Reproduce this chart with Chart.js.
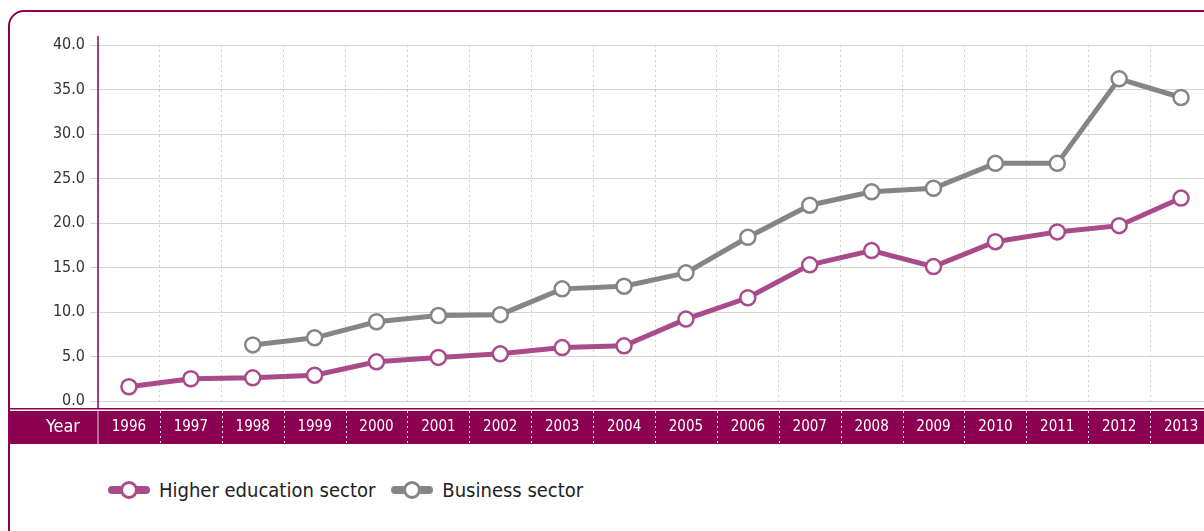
<!DOCTYPE html>
<html>
<head>
<meta charset="utf-8">
<script src="https://cdn.jsdelivr.net/npm/chart.js@4/dist/chart.umd.min.js"></script>
<style>
  html, body { margin: 0; padding: 0; background: #fff; overflow: hidden; width: 1204px; height: 531px; }
  #frame { position: absolute; left: 8px; top: 10px; width: 1300px; height: 600px;
           border: 2.5px solid #8b0051; border-top-left-radius: 16px; box-sizing: border-box; }
  #chart { position: absolute; left: 0; top: 0; }
  #legend { position: absolute; left: 108px; top: 478px; display: flex; align-items: center;
            font-family: 'Liberation Sans Narrow', 'DejaVu Sans Condensed', sans-serif; font-size: 20px; color: #222; }
  .item { display: flex; align-items: center; margin-right: 16px; }
  .sym { position: relative; width: 42px; height: 18px; margin-right: 9px; }
  .sym .bar { position: absolute; left: 0; top: 5px; width: 42px; height: 8px; border-radius: 4px; }
  .sym .dot { position: absolute; left: 12px; top: 0px; width: 12px; height: 12px; border-radius: 50%;
              background: #fff; border: 3px solid; }
</style>
</head>
<body>
<div id="frame"></div>
<canvas id="chart" width="1222" height="446"></canvas>
<div id="legend">
  <div class="item"><div class="sym"><div class="bar" style="background:#a94a8b"></div><div class="dot" style="border-color:#a94a8b"></div></div>Higher education sector</div>
  <div class="item"><div class="sym"><div class="bar" style="background:#858585"></div><div class="dot" style="border-color:#858585"></div></div>Business sector</div>
</div>
<script>
const years = ['1996', '1997', '1998', '1999', '2000', '2001', '2002', '2003', '2004', '2005',
               '2006', '2007', '2008', '2009', '2010', '2011', '2012', '2013'];
const higherEducation = [1.6, 2.5, 2.6, 2.9, 4.4, 4.9, 5.3, 6.0, 6.2, 9.2,
                         11.6, 15.3, 16.9, 15.1, 17.9, 19.0, 19.7, 22.8];
const business = [null, null, 6.3, 7.1, 8.9, 9.6, 9.7, 12.6, 12.9, 14.4,
                  18.4, 22.0, 23.5, 23.9, 26.7, 26.7, 36.2, 34.1];

const FONT = "'Liberation Sans Narrow', 'DejaVu Sans Condensed', sans-serif";
const BAND = '#8b0051';

// band under the plot with the year labels
const bandPlugin = {
  id: 'band',
  beforeDraw(chart) {
    const c = chart.ctx, area = chart.chartArea;
    c.save();
    c.fillStyle = BAND;
    c.fillRect(9, area.bottom + 7, chart.width, 1.5);
    c.fillRect(9, area.bottom + 10, chart.width, 33);
    c.restore();
  },
  afterDraw(chart) {
    const c = chart.ctx, area = chart.chartArea;
    const top = area.bottom + 10, bottom = area.bottom + 43;
    c.save();
    // y axis line
    c.strokeStyle = BAND;
    c.lineWidth = 1.5;
    c.beginPath();
    c.moveTo(area.left, area.top - 9);
    c.lineTo(area.left, area.bottom + 8);
    c.stroke();
    // separators in band
    c.strokeStyle = '#d8d8d8';
    c.lineWidth = 1;
    c.beginPath();
    c.moveTo(area.left, top);
    c.lineTo(area.left, bottom);
    c.stroke();
    c.strokeStyle = 'rgba(255,255,255,0.85)';
    c.setLineDash([2, 3]);
    const w = (area.right - area.left) / years.length;
    for (let i = 1; i < years.length; i++) {
      const px = Math.round(area.left + i * w) + 0.5;
      c.beginPath();
      c.moveTo(px, top);
      c.lineTo(px, bottom);
      c.stroke();
    }
    c.setLineDash([]);
    c.fillStyle = '#fff';
    c.font = '18px ' + FONT;
    c.textAlign = 'center';
    c.textBaseline = 'middle';
    c.fillText('Year', 63, (top + bottom) / 2);
    c.restore();
  }
};

new Chart(document.getElementById('chart'), {
  type: 'line',
  data: {
    labels: years,
    datasets: [
      {
        label: 'Higher education sector',
        data: higherEducation,
        borderColor: '#a94a8b',
        backgroundColor: '#ffffff',
        borderWidth: 5,
        pointRadius: 7.5,
        pointBorderWidth: 2.5,
        pointBackgroundColor: '#ffffff',
        pointBorderColor: '#a94a8b',
        tension: 0
      },
      {
        label: 'Business sector',
        data: business,
        borderColor: '#858585',
        backgroundColor: '#ffffff',
        borderWidth: 5,
        pointRadius: 7.5,
        pointBorderWidth: 2.5,
        pointBackgroundColor: '#ffffff',
        pointBorderColor: '#858585',
        tension: 0
      }
    ]
  },
  options: {
    responsive: false,
    animation: false,
    devicePixelRatio: 1,
    layout: { padding: { top: 45, right: 4, bottom: 2, left: 0 } },
    plugins: {
      legend: { display: false },
      tooltip: { enabled: false }
    },
    scales: {
      x: {
        offset: true,
        grid: { color: '#cfcfcf', drawTicks: false, offset: true },
        border: { display: false, dash: [2, 3] },
        ticks: { color: '#fff', font: { family: FONT, size: 15 }, padding: 17, maxRotation: 0, autoSkip: false },
        afterFit(scale) { scale.height = 43; }
      },
      y: {
        min: 0,
        max: 40,
        grid: { color: '#d4d4d4', tickLength: 8, lineWidth: 1 },
        border: { display: false },
        ticks: {
          stepSize: 5,
          color: '#333',
          padding: 5,
          font: { family: FONT, size: 16 },
          callback: v => v.toFixed(1)
        },
        afterFit(scale) { scale.width = 98; }
      }
    }
  },
  plugins: [bandPlugin]
});
</script>
</body>
</html>
